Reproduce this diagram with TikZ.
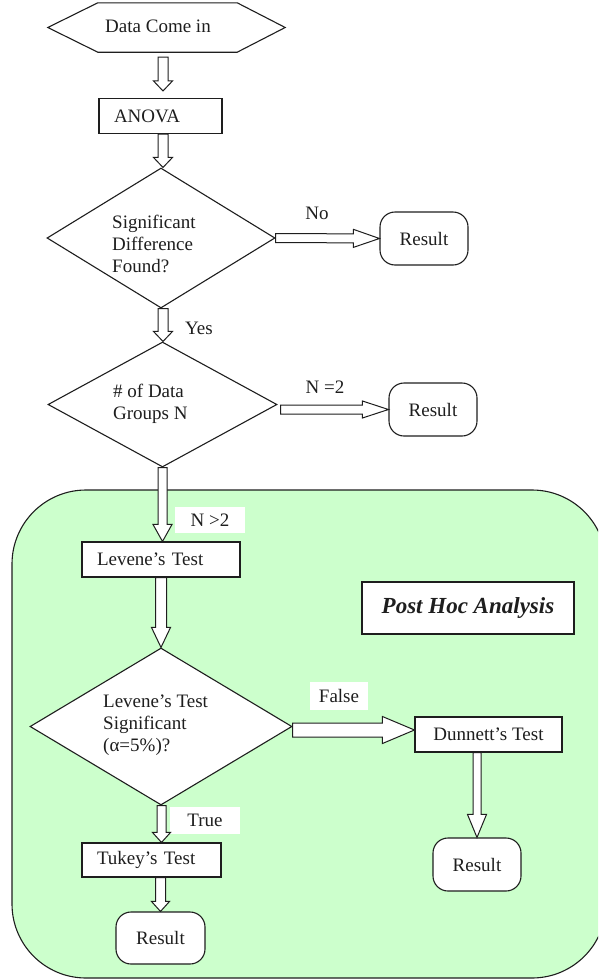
\documentclass[tikz,border=0pt]{standalone}
\usepackage{fontspec}
\setmainfont{Liberation Serif}
\usetikzlibrary{shapes.geometric,calc}

\definecolor{posthocgreen}{RGB}{204,255,204}
\definecolor{ink}{RGB}{30,30,30}

% Hollow block arrow: start, end, shaft half-width, head half-width, head length
\newcommand\hollowarrow[5]{%
  \path #1 coordinate (ha-s);
  \path #2 coordinate (ha-e);
  \coordinate (ha-h) at ($(ha-e)!#5!(ha-s)$);
  \draw[arrowbody] ($(ha-s)!#3!90:(ha-e)$) -- ($(ha-h)!#3!-90:(ha-s)$)
    -- ($(ha-h)!#4!-90:(ha-s)$) -- (ha-e) -- ($(ha-h)!#4!90:(ha-s)$)
    -- ($(ha-h)!#3!90:(ha-s)$) -- ($(ha-s)!#3!-90:(ha-e)$) -- cycle;}

\tikzset{
  txt/.style={font=\fontsize{19pt}{22pt}\selectfont, inner sep=0pt, text=ink},
  box/.style={draw=ink, fill=white, line width=1.1pt, txt, inner xsep=15pt, align=left, minimum height=35pt},
  term/.style={draw=ink, fill=white, line width=1.1pt, txt, rounded corners=15pt, minimum width=88pt, minimum height=53pt},
  decision/.style={draw=ink, fill=white, line width=1.1pt, diamond, inner sep=0pt, aspect=1.6},
  arrowbody/.style={draw=ink, fill=white, line width=1pt, line join=miter},
  tag/.style={txt, fill=white, minimum height=27pt},
  stepline/.style={draw=ink, line width=1.1pt, line join=miter},
}

\begin{document}
\begin{tikzpicture}[x=1pt, y=-1pt]
\useasboundingbox (0,0) rectangle (598,980);

% post hoc area
\begin{scope}
  \clip (0,0) rectangle (598,980);
  \draw[stepline, fill=posthocgreen, rounded corners=74pt] (12,490) rectangle (606,978);
\end{scope}

% entry hexagon
\node[minimum width=139pt, minimum height=49pt, inner sep=0pt] (hex) at (167.5,27.5) {};
\draw[stepline, fill=white] ($(hex.west)+(-50,0)$) -- (hex.north west) -- (hex.north east)
  -- ($(hex.east)+(48,0)$) -- (hex.south east) -- (hex.south west) -- cycle;
\node[txt] (hextxt) at (158,26) {Data Come in};

\node[box, text width=93pt] (anova) at (160.5,116) {ANOVA};

\node[decision, minimum width=228pt, minimum height=140pt] (d1) at (161,238) {};
\node[txt, anchor=west, align=left] (d1txt) at (112,244) {Significant\\Difference\\Found?};
\node[term] (r1) at (424,238.5) {Result};
\node[txt] (lno) at (317,213) {No};
\node[txt] (lyes) at (199,328) {Yes};

\node[decision, minimum width=229pt, minimum height=125pt] (d2) at (162.5,404.5) {};
\node[txt, anchor=west, align=left] (d2txt) at (113,403.5) {\# of Data\\Groups N};
\node[term] (r2) at (433,409.5) {Result};
\node[txt] (ln2) at (325,387) {N =2};

\node[tag, minimum width=70pt, minimum height=26pt] (lngt) at (210,520) {N >2};
\node[box, text width=128pt] (lev) at (161,559.5) {Levene’s Test};
\node[box, minimum width=212pt, minimum height=52pt, align=center,
      font=\fontsize{23pt}{27pt}\selectfont\bfseries\itshape] (posthoc) at (468,608) {Post Hoc Analysis};

\node[decision, minimum width=262pt, minimum height=157pt] (d3) at (161,726.5) {};
\node[txt, anchor=west, align=left] (d3txt) at (103,725) {Levene’s Test\\Significant\\(α=5\%)?};
\node[tag, minimum width=58pt, minimum height=28pt] (lfalse) at (339,696) {False};
\node[box, minimum width=147pt, inner xsep=0pt, align=center] (dun) at (488.5,734.5) {Dunnett’s Test};
\node[tag, minimum width=70pt] (ltrue) at (205,820.5) {True};
\node[box, text width=109pt, minimum height=34pt] (tukey) at (151.5,860) {Tukey’s Test};
\node[term, minimum width=89pt, minimum height=52pt] (r3) at (160.5,938) {Result};
\node[term] (r4) at (477,864.5) {Result};

% connectors
\hollowarrow{($(hex.south)+(-4.5,5)$)}{($(anova.north)+(2.5,-7)$)}{5pt}{9.5pt}{10pt}
\hollowarrow{($(anova.south)+(2.5,0)$)}{($(d1.north)+(2,0)$)}{5pt}{9.5pt}{10pt}
\hollowarrow{(d1.east)}{(r1.west)}{4.5pt}{9pt}{26pt}
\hollowarrow{($(d1.south)+(2,0)$)}{($(d2.north)+(0.5,0)$)}{5pt}{9.5pt}{10pt}
\hollowarrow{({$(d2.east)+(3,0)$} |- r2.west)}{(r2.west)}{4.5pt}{8.5pt}{26pt}
\hollowarrow{(d2.south)}{(lev.north -| d2.south)}{4.5pt}{9.5pt}{17pt}
\hollowarrow{(lev.south)}{(d3.north)}{5.5pt}{9.5pt}{20pt}
\hollowarrow{($(d3.east)+(0,3.5)$)}{(dun.west |- {$(d3.east)+(0,3.5)$})}{7pt}{13.5pt}{32pt}
\hollowarrow{($(d3.south)+(0.5,0)$)}{(tukey.north -| {$(d3.south)+(0.5,0)$})}{4.5pt}{9pt}{10pt}
\hollowarrow{(tukey.south -| r3.north)}{(r3.north)}{5pt}{9pt}{10pt}
\hollowarrow{(dun.south -| r4.north)}{(r4.north)}{4pt}{9.5pt}{23pt}
\end{tikzpicture}
\end{document}
